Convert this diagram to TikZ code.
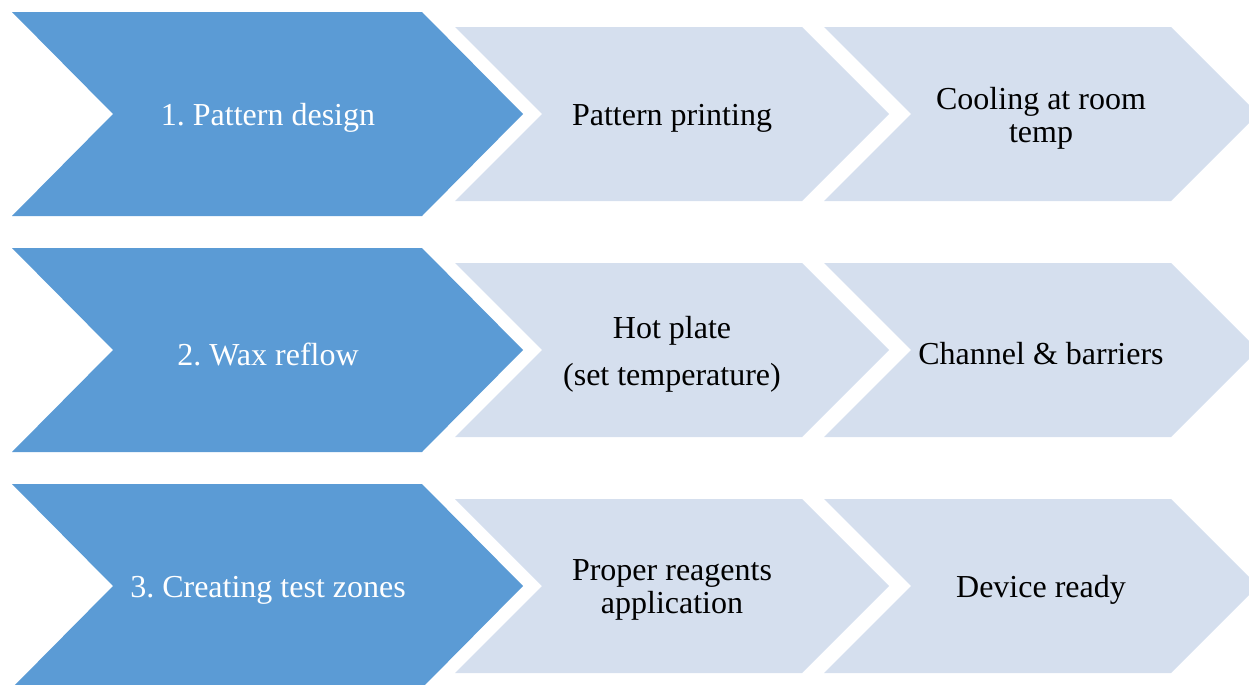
\documentclass[tikz,border=0pt]{standalone}
\usepackage{fontspec}
\setmainfont{Liberation Serif}
\definecolor{stepblue}{HTML}{5B9BD5}
\definecolor{steplight}{HTML}{D5DFEE}

\begin{document}
\begin{tikzpicture}[x=0.5pt,y=-0.5pt,
  bigchev/.style={fill=stepblue},
  smallchev/.style={fill=steplight},
  lbl/.style={font=\fontsize{16}{16.5}\selectfont\frenchspacing,align=center,text=black},
  lblw/.style={lbl,text=white}]
  \useasboundingbox (0,0) rectangle (1249,685);
  \clip (0,0) rectangle (1249,685);
  % chevrons, one row per stage
  \foreach \c in {114,350,586}{
    \fill[bigchev] (12,\c-102) -- (422,\c-102) -- (523,\c) -- (422,\c+102) -- (12,\c+102) -- (113,\c) -- cycle;
    \fill[smallchev] (455,\c-87) -- (802,\c-87) -- (889,\c) -- (802,\c+87) -- (455,\c+87) -- (542,\c) -- cycle;
    \fill[smallchev] (824,\c-87) -- (1171,\c-87) -- (1258,\c) -- (1171,\c+87) -- (824,\c+87) -- (911,\c) -- cycle;
  }
  % row 1
  \node[lblw] (design) at (268,118) {1. Pattern design};
  \node[lbl] (printing) at (672,118) {Pattern printing};
  \node[lbl] (cooling) at (1041,118) {Cooling at room\\temp};
  % row 2
  \node[lblw] (reflow) at (268,354) {2. Wax reflow};
  \node[lbl] (hotplate) at (672,354) {Hot plate\\[7pt](set temperature)};
  \node[lbl] (channel) at (1041,354) {Channel \& barriers};
  % row 3
  \node[lblw] (zones) at (268,590) {3. Creating test zones};
  \node[lbl] (reagents) at (672,590) {Proper reagents\\application};
  \node[lbl] (ready) at (1041,590) {Device ready};
\end{tikzpicture}
\end{document}
